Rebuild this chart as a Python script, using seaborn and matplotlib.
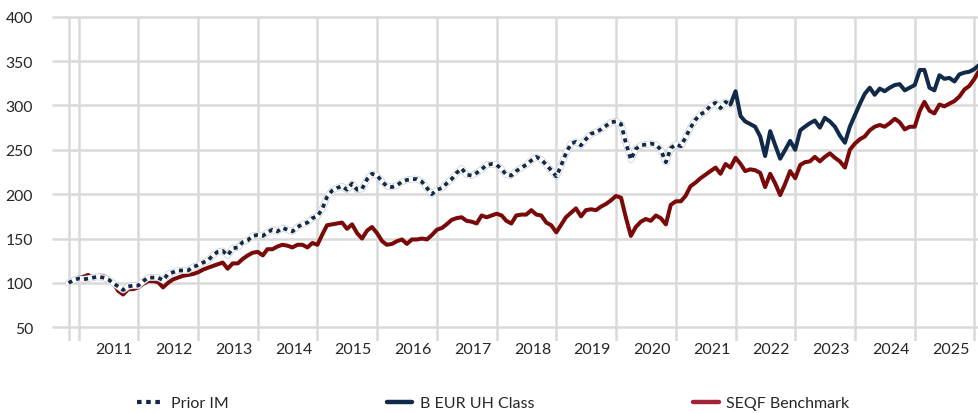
import pandas as pd
import numpy as np
import matplotlib
matplotlib.use('Agg')
import matplotlib.pyplot as plt
import matplotlib.dates as mdates
import matplotlib.patheffects as pe
from matplotlib.lines import Line2D
import seaborn as sns

# monthly index values, first point Nov 2010
start = '2010-11-01'

seqf = [100, 104, 106, 107, 109, 105, 108, 108, 105, 100,
        91, 87, 93, 93, 95, 99, 102, 102, 101, 95,
        100, 104, 106, 108, 109, 110, 112, 115, 117, 119,
        121, 123, 116, 122, 122, 127, 131, 134, 135, 131,
        138, 138, 141, 143, 142, 140, 143, 143, 140, 145,
        143, 155, 165, 166, 167, 168, 161, 166, 156, 150,
        159, 163, 156, 147, 143, 144, 147, 149, 144, 149,
        149, 150, 149, 154, 160, 162, 166, 171, 173, 174,
        170, 169, 167, 176, 174, 176, 178, 176, 170, 167,
        176, 177, 177, 182, 177, 176, 168, 165, 157, 166,
        174, 179, 184, 175, 182, 183, 182, 186, 189, 193,
        198, 196, 174, 153, 163, 169, 172, 170, 176, 173,
        166, 188, 192, 192, 198, 209, 213, 218, 222, 226,
        230, 223, 234, 230, 241, 234, 226, 228, 227, 224,
        208, 223, 212, 199, 212, 226, 218, 233, 236, 237,
        242, 237, 242, 246, 241, 237, 230, 250, 257, 262,
        265, 272, 276, 278, 276, 280, 285, 281, 273, 276,
        276, 294, 304, 294, 291, 301, 299, 302, 305, 310,
        318, 322, 330, 340]

prior_im = [100, 103, 105, 104, 105, 106, 107, 106, 104, 100,
            96, 92, 96, 97, 97, 102, 106, 106, 106, 103,
            110, 112, 114, 114, 114, 118, 120, 123, 125, 131,
            135, 136, 131, 139, 140, 146, 148, 153, 154, 153,
            157, 160, 158, 162, 160, 158, 163, 166, 168, 173,
            175, 184, 197, 204, 207, 209, 205, 212, 205, 206,
            217, 223, 221, 214, 209, 208, 210, 214, 216, 217,
            217, 214, 207, 200, 205, 207, 212, 217, 224, 229,
            222, 221, 224, 228, 233, 234, 233, 228, 222, 221,
            226, 230, 233, 238, 242, 239, 233, 227, 220, 233,
            246, 257, 259, 255, 262, 268, 270, 273, 277, 281,
            282, 279, 258, 239, 251, 255, 256, 257, 256, 250,
            236, 252, 256, 254, 264, 275, 284, 290, 293, 300,
            303, 297, 304, 301]

# share class continues from Dec 2021
b_eur_uh = [301, 316, 288, 282, 279, 276, 265, 243, 271, 255,
            240, 250, 260, 250, 272, 276, 280, 283, 275, 286,
            282, 276, 266, 258, 276, 289, 302, 313, 320, 312,
            319, 316, 320, 323, 324, 317, 320, 323, 340, 340,
            320, 317, 334, 330, 331, 327, 335, 337, 338, 341,
            346]

dates = pd.date_range(start, periods=len(seqf), freq='MS')
df_seqf = pd.DataFrame({'date': dates, 'value': seqf})
df_prior = pd.DataFrame({'date': dates[:len(prior_im)], 'value': prior_im})
df_b = pd.DataFrame({'date': dates[len(prior_im) - 1:], 'value': b_eur_uh})

navy = '#112a4a'
maroon = '#7a0a0a'
legend_red = '#a3243a'
grid_c = '#d9d9d9'

sns.set_style('white')
plt.rcParams['font.family'] = ['Lato', 'DejaVu Sans']

fig = plt.figure(figsize=(9.79, 4.14), dpi=100)
ax = fig.add_axes([53 / 979, 1 - 341.7 / 414, 1 - 53 / 979, (341.7 - 17.7) / 414])

# grid
for v in range(50, 401, 50):
    ax.axhline(v, color=grid_c, lw=1.8, zorder=0, clip_on=False)
vlines = [pd.Timestamp(start)] + [pd.Timestamp(f'{y}-01-01') for y in range(2011, 2027)]
for d in vlines:
    ax.axvline(d, color=grid_c, lw=1.8, zorder=0)

sns.lineplot(data=df_seqf, x='date', y='value', ax=ax, color=maroon, lw=2.9,
             solid_joinstyle='round', zorder=3)
sns.lineplot(data=df_prior, x='date', y='value', ax=ax, color='white', lw=3.8,
             path_effects=[pe.Stroke(linewidth=4.8, foreground='#c9ccd2'), pe.Normal()],
             zorder=4)
sns.lineplot(data=df_prior, x='date', y='value', ax=ax, color=navy, lw=2.7, zorder=5)
ax.lines[-1].set_dashes((1.1, 1.1))
ax.lines[-1].set_dash_capstyle('butt')
sns.lineplot(data=df_b, x='date', y='value', ax=ax, color=navy, lw=2.9,
             solid_joinstyle='round', zorder=6)

ax.set_ylim(34.9, 400)
ax.set_xlim(pd.Timestamp('2010-07-29'), pd.Timestamp('2026-01-29'))
ax.set_yticks(range(50, 401, 50))
ax.set_xticks([pd.Timestamp(f'{y}-08-08') for y in range(2011, 2026)])
ax.xaxis.set_major_formatter(mdates.DateFormatter('%Y'))
ax.tick_params(axis='y', length=0, pad=14.4, labelsize=11.3, labelcolor='#262626')
ax.tick_params(axis='x', length=0, pad=1, labelsize=11.5, labelcolor='#262626')
ax.set_xlabel('')
ax.set_ylabel('')
for s in ax.spines.values():
    s.set_visible(False)

handles = [
    Line2D([], [], color=navy, lw=3, dashes=(1.1, 1.1), dash_capstyle='butt'),
    Line2D([], [], color=navy, lw=3.2),
    Line2D([], [], color=legend_red, lw=3.2),
]
labels = ['Prior IM', 'B EUR UH Class', 'SEQF Benchmark']
fig.legend(handles, labels, loc='center', ncol=3, frameon=False,
           bbox_to_anchor=(493.5 / 979, 1 - 404 / 414), fontsize=11.5,
           handlelength=1.6, handletextpad=0.5, columnspacing=9.9,
           labelcolor='#262626')

plt.savefig('out.png', dpi=100, facecolor='white')
